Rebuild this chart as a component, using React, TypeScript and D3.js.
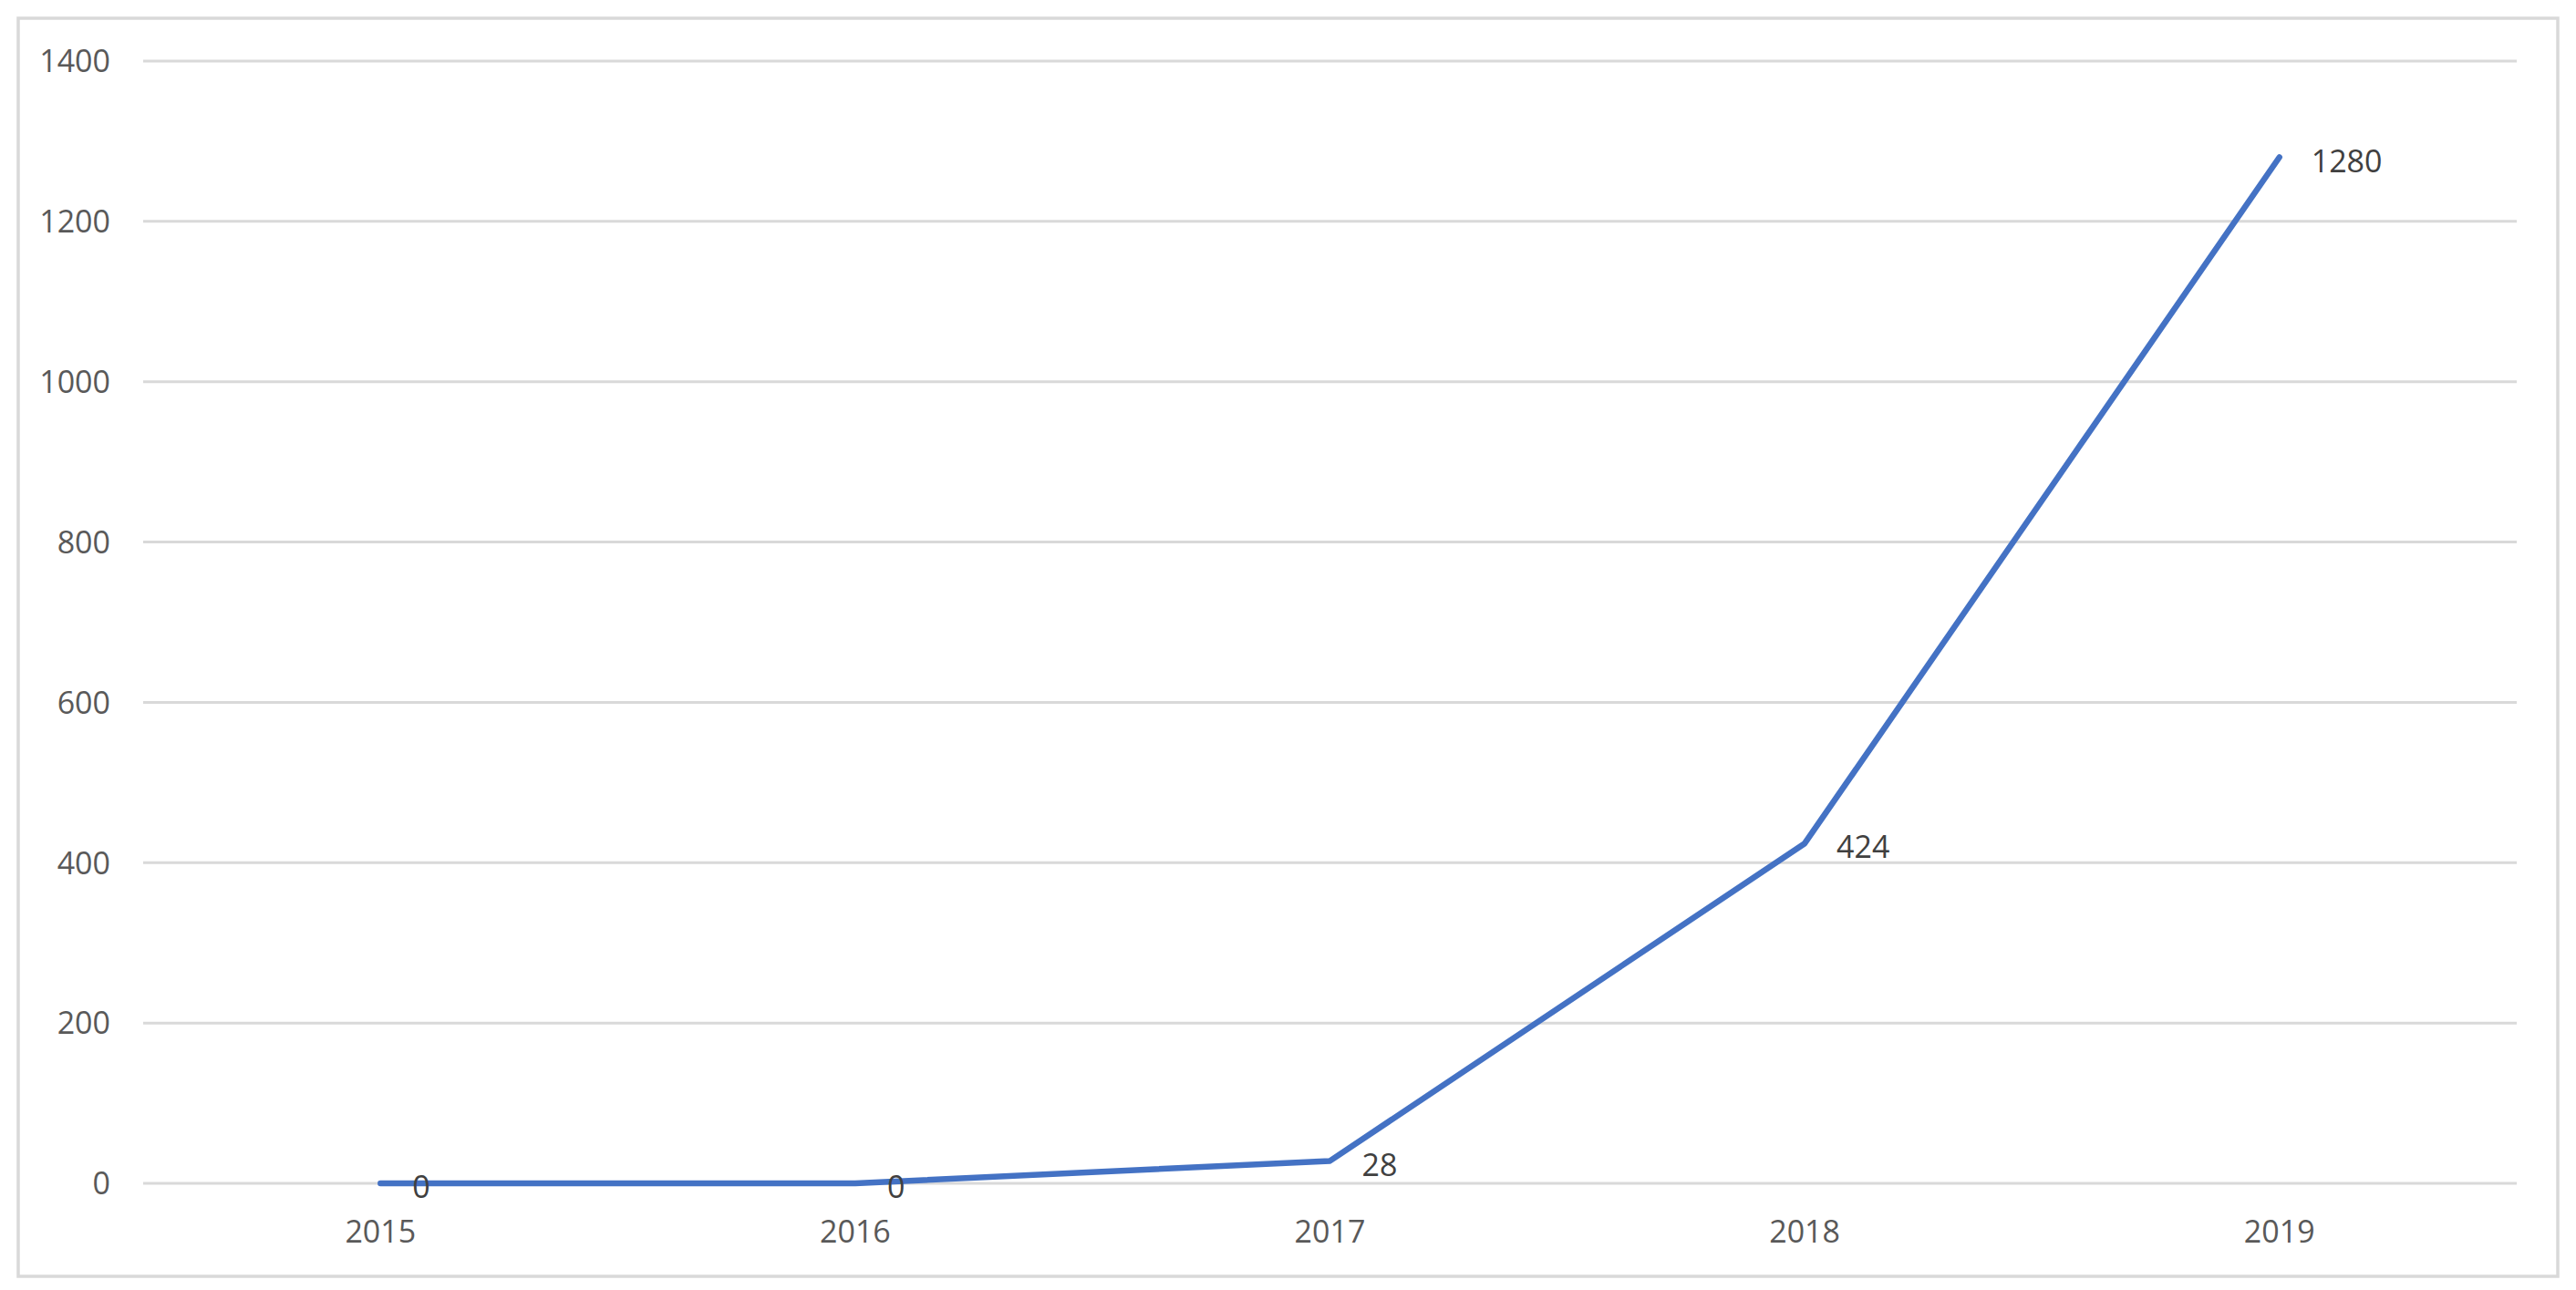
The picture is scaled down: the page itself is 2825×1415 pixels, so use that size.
import React from "react";
import * as d3 from "d3";

const categories = ["2015", "2016", "2017", "2018", "2019"];
const values = [0, 0, 28, 424, 1280];
const yTicks = [0, 200, 400, 600, 800, 1000, 1200, 1400];

const W = 2825;
const H = 1415;
const plot = { left: 157, right: 2760, top: 67, bottom: 1298 };
const FONT = "'Open Sans', 'Liberation Sans', sans-serif";

export default function App() {
  const x = d3
    .scaleBand<string>()
    .domain(categories)
    .range([plot.left, plot.right])
    .paddingInner(0)
    .paddingOuter(0);
  const y = d3.scaleLinear().domain([0, 1400]).range([plot.bottom, plot.top]);
  const cx = (c: string) => (x(c) as number) + x.bandwidth() / 2;

  const line = d3
    .line<number>()
    .x((_, i) => cx(categories[i]))
    .y((v) => y(v))
    .curve(d3.curveLinear);

  return (
    <svg
      width={W}
      height={H}
      viewBox={`0 0 ${W} ${H}`}
      style={{ position: "absolute", left: 0, top: 0, background: "#fff" }}
    >
      <rect x={0} y={0} width={W} height={H} fill="#fff" />
      <rect
        x={20}
        y={20}
        width={2785}
        height={1380}
        fill="#fff"
        stroke="#d9d9d9"
        strokeWidth={3.5}
      />
      {yTicks.map((t) => (
        <g key={t}>
          <line
            x1={plot.left}
            x2={plot.right}
            y1={y(t)}
            y2={y(t)}
            stroke="#d9d9d9"
            strokeWidth={3}
          />
          <text
            x={121}
            y={y(t)}
            dy="0.36em"
            textAnchor="end"
            fontFamily={FONT}
            fontSize={34}
            fill="#595959"
          >
            {t}
          </text>
        </g>
      ))}
      {categories.map((c) => (
        <text
          key={c}
          x={cx(c)}
          y={1363}
          textAnchor="middle"
          fontFamily={FONT}
          fontSize={34}
          fill="#595959"
        >
          {c}
        </text>
      ))}
      <path
        d={line(values) || ""}
        fill="none"
        stroke="#4472C4"
        strokeWidth={6.5}
        strokeLinejoin="round"
        strokeLinecap="round"
      />
      {values.map((v, i) => (
        <text
          key={i}
          x={cx(categories[i]) + 35}
          y={y(v) + 4}
          dy="0.36em"
          textAnchor="start"
          fontFamily={FONT}
          fontSize={34}
          fill="#404040"
        >
          {v}
        </text>
      ))}
    </svg>
  );
}
